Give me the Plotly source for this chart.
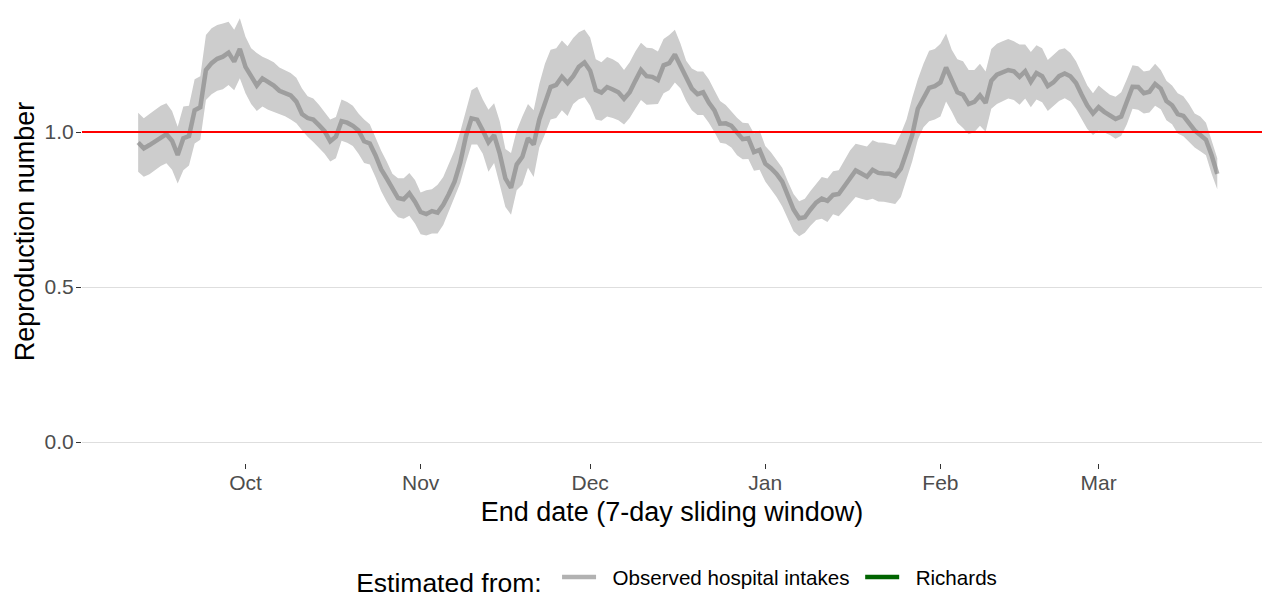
import pandas as pd
import plotly.graph_objects as go

# ---- data ----
start_date = "2022-09-12"
end_date = "2023-03-22"

r_mean = [
    # Sep 12-30
    0.966, 0.947, 0.958, 0.970, 0.984, 0.993, 0.972, 0.926, 0.980, 0.987,
    1.070, 1.080, 1.200, 1.222, 1.236, 1.243, 1.256, 1.227, 1.268,
    # Oct
    1.210, 1.180, 1.150, 1.173, 1.162, 1.150, 1.133, 1.127, 1.118, 1.098,
    1.058, 1.045, 1.040, 1.022, 1.003, 0.970, 0.985, 1.035, 1.030, 1.020,
    1.005, 0.970, 0.963, 0.925, 0.880, 0.850, 0.815, 0.787, 0.783, 0.802,
    0.775,
    # Nov
    0.742, 0.735, 0.745, 0.740, 0.765, 0.800, 0.840, 0.900, 0.985, 1.044,
    1.040, 1.005, 0.967, 0.990, 0.930, 0.850, 0.820, 0.895, 0.920, 0.980,
    0.960, 1.040, 1.090, 1.145, 1.152, 1.178, 1.158, 1.180, 1.210, 1.224,
    # Dec
    1.198, 1.135, 1.127, 1.145, 1.137, 1.128, 1.107, 1.128, 1.165, 1.200,
    1.180, 1.178, 1.168, 1.215, 1.222, 1.250, 1.213, 1.175, 1.140, 1.122,
    1.128, 1.095, 1.070, 1.027, 1.028, 1.020, 0.998, 0.977, 0.980, 0.935,
    0.942,
    # Jan
    0.898, 0.883, 0.865, 0.840, 0.795, 0.750, 0.722, 0.725, 0.750, 0.772,
    0.785, 0.778, 0.797, 0.800, 0.825, 0.850, 0.876, 0.866, 0.856, 0.878,
    0.868, 0.866, 0.865, 0.858, 0.882, 0.935, 0.990, 1.075, 1.112, 1.142,
    1.148,
    # Feb
    1.160, 1.208, 1.170, 1.128, 1.120, 1.090, 1.097, 1.118, 1.094, 1.165,
    1.185, 1.193, 1.200, 1.196, 1.178, 1.196, 1.162, 1.190, 1.180, 1.148,
    1.160, 1.180, 1.189, 1.180, 1.158, 1.120, 1.085, 1.060,
    # Mar 1-22
    1.080, 1.065, 1.053, 1.042, 1.050, 1.100, 1.146, 1.145, 1.125, 1.130,
    1.155, 1.140, 1.100, 1.086, 1.058, 1.052, 1.030, 1.005, 0.990, 0.975,
    0.925, 0.865,
]

r_lower = [
    0.872, 0.856, 0.864, 0.876, 0.890, 0.899, 0.878, 0.834, 0.877, 0.892,
    0.963, 0.975, 1.103, 1.122, 1.133, 1.138, 1.152, 1.135, 1.173,
    1.125, 1.090, 1.068, 1.082, 1.072, 1.065, 1.056, 1.051, 1.040, 1.028,
    1.006, 0.985, 0.968, 0.948, 0.930, 0.905, 0.915, 0.972, 0.965, 0.955,
    0.930, 0.900, 0.895, 0.855, 0.810, 0.775, 0.745, 0.725, 0.720, 0.730,
    0.705,
    0.670, 0.666, 0.673, 0.673, 0.700, 0.745, 0.790, 0.835, 0.900, 0.960,
    0.960, 0.930, 0.872, 0.900, 0.830, 0.758, 0.733, 0.812, 0.830, 0.885,
    0.855, 0.950, 0.993, 1.040, 1.045, 1.070, 1.052, 1.090, 1.106, 1.112,
    1.085, 1.040, 1.036, 1.050, 1.045, 1.038, 1.024, 1.045, 1.075, 1.103,
    1.088, 1.088, 1.090, 1.125, 1.135, 1.160, 1.140, 1.100, 1.070, 1.055,
    1.055, 1.030, 1.000, 0.965, 0.962, 0.950, 0.925, 0.912, 0.913, 0.875,
    0.878,
    0.840, 0.815, 0.790, 0.760, 0.720, 0.680, 0.664, 0.675, 0.698, 0.716,
    0.720, 0.710, 0.735, 0.728, 0.748, 0.770, 0.790, 0.785, 0.780, 0.785,
    0.776, 0.775, 0.772, 0.768, 0.790, 0.850, 0.905, 0.975, 1.015, 1.035,
    1.040,
    1.050, 1.098, 1.066, 1.030, 1.013, 0.993, 1.000, 1.020, 1.001, 1.075,
    1.090, 1.100, 1.108, 1.103, 1.088, 1.108, 1.080, 1.105, 1.096, 1.068,
    1.085, 1.100, 1.109, 1.098, 1.073, 1.040, 1.010, 0.990,
    1.005, 0.998, 0.990, 0.978, 0.988, 1.025, 1.075, 1.072, 1.060, 1.063,
    1.085, 1.073, 1.038, 1.025, 0.995, 0.986, 0.968, 0.950, 0.938, 0.925,
    0.865, 0.815,
]

r_upper = [
    1.062, 1.044, 1.058, 1.072, 1.085, 1.093, 1.068, 1.017, 1.082, 1.085,
    1.170, 1.180, 1.313, 1.335, 1.345, 1.350, 1.356, 1.330, 1.367,
    1.307, 1.270, 1.255, 1.243, 1.235, 1.225, 1.208, 1.198, 1.190, 1.175,
    1.140, 1.115, 1.108, 1.088, 1.065, 1.040, 1.048, 1.105, 1.097, 1.085,
    1.060, 1.040, 1.025, 0.980, 0.940, 0.905, 0.865, 0.851, 0.851, 0.868,
    0.845,
    0.805, 0.812, 0.815, 0.830, 0.855, 0.895, 0.940, 1.000, 1.070, 1.135,
    1.146, 1.105, 1.072, 1.093, 1.035, 0.945, 0.932, 1.005, 1.050, 1.090,
    1.070, 1.155, 1.220, 1.265, 1.270, 1.295, 1.277, 1.303, 1.322, 1.331,
    1.305, 1.235, 1.225, 1.242, 1.235, 1.223, 1.200, 1.225, 1.260, 1.288,
    1.272, 1.270, 1.260, 1.300, 1.313, 1.330, 1.285, 1.230, 1.205, 1.195,
    1.195, 1.170, 1.135, 1.100, 1.087, 1.065, 1.046, 1.030, 1.028, 0.995,
    1.005,
    0.955, 0.935, 0.910, 0.885, 0.840, 0.800, 0.777, 0.785, 0.810, 0.833,
    0.855, 0.850, 0.873, 0.877, 0.910, 0.940, 0.962, 0.957, 0.953, 0.973,
    0.966, 0.965, 0.962, 0.958, 0.995, 1.040, 1.110, 1.170, 1.220, 1.262,
    1.268,
    1.285, 1.318, 1.265, 1.235, 1.228, 1.200, 1.200, 1.220, 1.195, 1.268,
    1.285, 1.293, 1.300, 1.293, 1.282, 1.282, 1.258, 1.280, 1.270, 1.232,
    1.250, 1.265, 1.270, 1.255, 1.228, 1.190, 1.150, 1.125,
    1.150, 1.135, 1.120, 1.114, 1.128, 1.170, 1.215, 1.212, 1.195, 1.198,
    1.220, 1.200, 1.165, 1.150, 1.125, 1.115, 1.090, 1.060, 1.050, 1.030,
    0.975, 0.915,
]

threshold = 1.0
month_ticks = ["2022-10-01", "2022-11-01", "2022-12-01",
               "2023-01-01", "2023-02-01", "2023-03-01"]
month_labels = ["Oct", "Nov", "Dec", "Jan", "Feb", "Mar"]
y_ticks = [0.0, 0.5, 1.0]
y_tick_labels = ["0.0", "0.5", "1.0"]
series_names = ["Observed hospital intakes", "Richards"]

dates = pd.date_range(start_date, end_date, freq="D")

FONT = "Liberation Sans, Arial, sans-serif"
RIBBON = "#cdcdcd"
LINE = "rgba(127,127,127,0.6)"
GREEN = "#006400"
PAD = "\u00a0\u00a0"  # spacing between legend key and label

fig = go.Figure()

# ribbon (credible interval)
fig.add_trace(go.Scatter(x=dates, y=r_lower, mode="lines",
                         line=dict(width=0, color=RIBBON),
                         showlegend=False, hoverinfo="skip"))
fig.add_trace(go.Scatter(x=dates, y=r_upper, mode="lines",
                         line=dict(width=0, color=RIBBON),
                         fill="tonexty", fillcolor=RIBBON,
                         showlegend=False, hoverinfo="skip"))
# mean line
fig.add_trace(go.Scatter(x=dates, y=r_mean, mode="lines",
                         line=dict(width=4.5, color=LINE),
                         name=PAD + series_names[0] + "\u00a0"))
# Richards (legend only; no data in range)
fig.add_trace(go.Scatter(x=[None], y=[None], mode="lines",
                         line=dict(width=4.5, color=GREEN),
                         name=PAD + series_names[1]))

fig.add_hline(y=threshold, line=dict(color="#ff0000", width=2), layer="above")

fig.update_layout(
    width=1264, height=596,
    margin=dict(l=82, r=2, t=0, b=133, autoexpand=False),
    plot_bgcolor="white", paper_bgcolor="white",
    font=dict(family=FONT, color="black"),
    showlegend=True,
    legend=dict(
        orientation="h", x=0.5052, xanchor="center", y=-0.252, yanchor="middle",
        traceorder="normal",
        title=dict(text="Estimated from:\u00a0", font=dict(size=26.5, color="black"), side="left"),
        font=dict(size=20.6, color="black"),
        itemwidth=34, tracegroupgap=0,
    ),
    xaxis=dict(
        range=["2022-09-02 01:30", "2023-03-29 22:00"],
        tickvals=month_ticks, ticktext=month_labels,
        showgrid=False, zeroline=False, showline=False, automargin=False,
        ticks="outside", ticklen=5, tickwidth=1.3, tickcolor="#333333",
        tickfont=dict(size=21, color="#4d4d4d"),
        ticklabelstandoff=-4,
        title=dict(text="End date (7-day sliding window)",
                   font=dict(size=27, color="black"), standoff=8),
    ),
    yaxis=dict(
        range=[-0.0677, 1.4258],
        tickvals=y_ticks, ticktext=y_tick_labels,
        showgrid=True, gridcolor="#dedede", gridwidth=1,
        zeroline=False, showline=False, automargin=False,
        ticks="outside", ticklen=5, tickwidth=1.3, tickcolor="#333333",
        tickfont=dict(size=21, color="#4d4d4d"),
        ticklabelstandoff=-2,
        title=dict(text="Reproduction number",
                   font=dict(size=27, color="black"), standoff=2),
    ),
)

fig.write_html(
    "out.html",
    config={"displayModeBar": False},
    post_script="document.body.style.margin='0';document.body.style.overflow='hidden';",
)
